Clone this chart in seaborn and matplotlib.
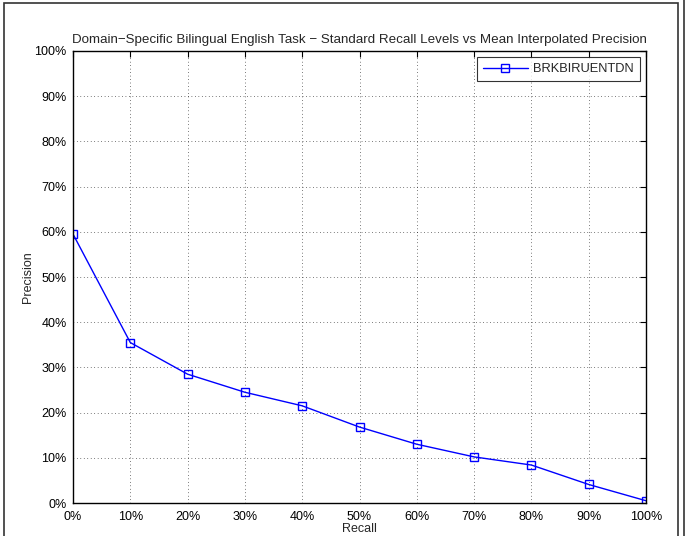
import matplotlib
matplotlib.use("Agg")
import matplotlib.pyplot as plt
from matplotlib.ticker import PercentFormatter
from matplotlib.patches import Rectangle
from matplotlib.lines import Line2D
import seaborn as sns
import pandas as pd

# standard recall levels vs mean interpolated precision (percent)
recall = [0, 10, 20, 30, 40, 50, 60, 70, 80, 90, 100]
precision = [59.5, 35.5, 28.5, 24.5, 21.5, 16.8, 13.0, 10.2, 8.4, 4.1, 0.5]
run_name = "BRKBIRUENTDN"
title = "Domain\u2212Specific Bilingual English Task \u2212 Standard Recall Levels vs Mean Interpolated Precision"

sns.set_style("white")
plt.rcParams['font.family'] = ['Liberation Sans', 'DejaVu Sans']
plt.rcParams['xtick.direction'] = 'in'
plt.rcParams['ytick.direction'] = 'in'

df = pd.DataFrame({"Recall": recall, "Precision": precision, "Run": run_name})

fig = plt.figure(figsize=(6.86, 5.36), dpi=100)
ax = fig.add_axes([73 / 686, 33 / 536, 573 / 686, 452 / 536])

sns.lineplot(data=df, x="Recall", y="Precision", hue="Run", palette=["#0000ff"],
             marker="s", markersize=5.5, markerfacecolor="none", markeredgecolor="#0000ff",
             markeredgewidth=1, linewidth=1, ax=ax)

ax.set_xlim(0, 100)
ax.set_ylim(0, 100)
ax.set_xticks(recall)
ax.set_yticks(range(0, 101, 10))
ax.xaxis.set_major_formatter(PercentFormatter(decimals=0))
ax.yaxis.set_major_formatter(PercentFormatter(decimals=0))
ax.tick_params(axis='both', labelsize=9, length=4, width=0.8, top=True, right=True,
               colors='black')
ax.tick_params(axis='x', pad=5.5)
ax.tick_params(axis='y', pad=4.5)
ax.grid(True, linestyle=(0, (1, 4)), color='black', linewidth=0.5)
for s in ax.spines.values():
    s.set_visible(True)
    s.set_color('black')
    s.set_linewidth(1)

ax.set_xlabel("Recall", fontsize=9, labelpad=0)
ax.set_ylabel("Precision", fontsize=9, labelpad=0)
ax.set_title(title, fontsize=9.6, pad=6)

leg = ax.legend(loc="upper right", fontsize=9.3, frameon=True, fancybox=False,
                borderaxespad=0.5, handlelength=3.5, borderpad=0.45, handletextpad=0.4)
leg.get_frame().set_edgecolor('black')
leg.get_frame().set_linewidth(0.8)

# outer frame
fig.add_artist(Rectangle((4 / 686, -0.1), 674 / 686, 1.1 - 3 / 536, transform=fig.transFigure,
                         fill=False, edgecolor='#333333', linewidth=1.2))
fig.add_artist(Line2D([684 / 686, 684 / 686], [0, 1], transform=fig.transFigure,
                      color='#333333', linewidth=1.2))

fig.savefig("out.png", dpi=100)
